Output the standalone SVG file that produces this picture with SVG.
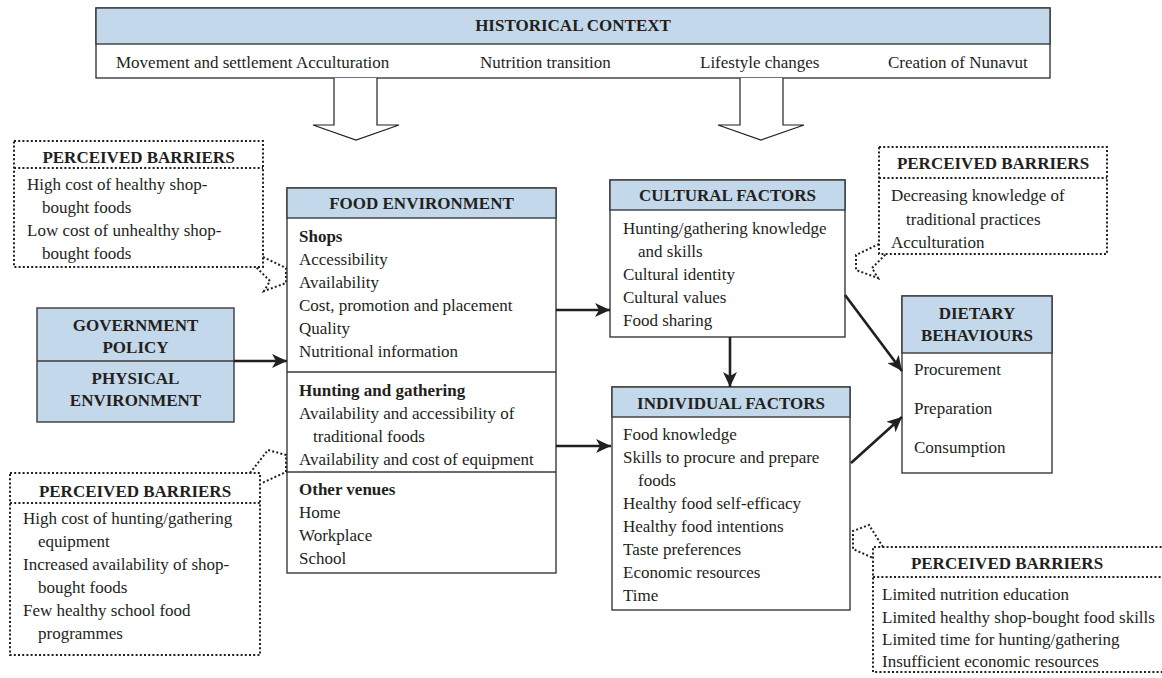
<svg xmlns="http://www.w3.org/2000/svg" width="1162" height="678" viewBox="0 0 1162 678">
<defs>
<style>
text{font-family:"Liberation Serif","Times New Roman",serif;font-size:17px;fill:#231f20}
.b{font-weight:bold}
.c{text-anchor:middle}
.box{fill:#fff;stroke:#3a3a3a;stroke-width:1.4}
.hdr{fill:#c3d8ea;stroke:#3a3a3a;stroke-width:1.4}
.sep{stroke:#3a3a3a;stroke-width:1.4;fill:none}
.dot{fill:none;stroke:#231f20;stroke-width:2;stroke-dasharray:2 2.2}
.blk{fill:#fff;stroke:#231f20;stroke-width:1.2}
.con{stroke:#231f20;stroke-width:2.6;fill:none;marker-end:url(#ah)}
</style>
<marker id="ah" markerUnits="userSpaceOnUse" markerWidth="16" markerHeight="14" refX="15" refY="7" orient="auto">
<path d="M0,0 L15,7 L0,14 L4,7 Z" fill="#231f20"/>
</marker>
</defs>

<g id="historical-context">
<rect class="box" x="96" y="8" width="954" height="70"/>
<rect class="hdr" x="96" y="8" width="954" height="36"/>
<text class="b c" x="573" y="31">HISTORICAL CONTEXT</text>
<text x="116" y="68">Movement and settlement Acculturation</text>
<text x="480" y="68">Nutrition transition</text>
<text x="700" y="68">Lifestyle changes</text>
<text x="888" y="68">Creation of Nunavut</text>
</g>

<g id="block-arrows">
<path class="blk" d="M334,78 L334,125 L313,125 L356,140 L399,125 L377,125 L377,78"/>
<path class="blk" d="M740,78 L740,125 L718,125 L761,140 L804,125 L783,125 L783,78"/>
</g>

<g id="barriers-shops">
<rect class="dot" x="14" y="141" width="249" height="126"/>
<line class="dot" x1="14" y1="168" x2="263" y2="168"/>
<text class="b c" x="138.5" y="163">PERCEIVED BARRIERS</text>
<text x="27" y="190">High cost of healthy shop-</text>
<text x="42" y="213">bought foods</text>
<text x="27" y="236">Low cost of unhealthy shop-</text>
<text x="42" y="259">bought foods</text>
<path class="dot" d="M263,257 L286,268 L286,283 L264,291 L270,281 L256,267"/>
</g>

<g id="food-environment">
<rect class="box" x="287" y="188" width="269" height="385"/>
<rect class="hdr" x="287" y="188" width="269" height="30"/>
<text class="b c" x="421.5" y="209">FOOD ENVIRONMENT</text>
<text class="b" x="299" y="242">Shops</text>
<text x="299" y="265">Accessibility</text>
<text x="299" y="288">Availability</text>
<text x="299" y="311">Cost, promotion and placement</text>
<text x="299" y="334">Quality</text>
<text x="299" y="357">Nutritional information</text>
<line class="sep" x1="287" y1="372" x2="556" y2="372"/>
<text class="b" x="299" y="396">Hunting and gathering</text>
<text x="299" y="419">Availability and accessibility of</text>
<text x="313" y="442">traditional foods</text>
<text x="299" y="465">Availability and cost of equipment</text>
<line class="sep" x1="287" y1="472" x2="556" y2="472"/>
<text class="b" x="299" y="495">Other venues</text>
<text x="299" y="518">Home</text>
<text x="299" y="541">Workplace</text>
<text x="299" y="564">School</text>
</g>

<g id="government-policy">
<rect class="hdr" x="37" y="308" width="197" height="114"/>
<line class="sep" x1="37" y1="361" x2="234" y2="361"/>
<text class="b c" x="135.5" y="331">GOVERNMENT</text>
<text class="b c" x="135.5" y="353">POLICY</text>
<text class="b c" x="135.5" y="384">PHYSICAL</text>
<text class="b c" x="135.5" y="406">ENVIRONMENT</text>
</g>

<g id="barriers-hunting">
<rect class="dot" x="10" y="473" width="250" height="182"/>
<line class="dot" x1="10" y1="503" x2="260" y2="503"/>
<text class="b c" x="135" y="497">PERCEIVED BARRIERS</text>
<text x="23" y="524">High cost of hunting/gathering</text>
<text x="38" y="547">equipment</text>
<text x="23" y="570">Increased availability of shop-</text>
<text x="38" y="593">bought foods</text>
<text x="23" y="616">Few healthy school food</text>
<text x="38" y="639">programmes</text>
<path class="dot" d="M250,473 L268,450 L286,455 L286,472 L262,483"/>
</g>

<g id="cultural-factors">
<rect class="box" x="610" y="180" width="235" height="157"/>
<rect class="hdr" x="610" y="180" width="235" height="30"/>
<text class="b c" x="727.5" y="201">CULTURAL FACTORS</text>
<text x="623" y="234">Hunting/gathering knowledge</text>
<text x="638" y="257">and skills</text>
<text x="623" y="280">Cultural identity</text>
<text x="623" y="303">Cultural values</text>
<text x="623" y="326">Food sharing</text>
</g>

<g id="barriers-cultural">
<rect class="dot" x="879" y="147" width="228" height="107"/>
<line class="dot" x1="879" y1="178" x2="1107" y2="178"/>
<text class="b c" x="993" y="169">PERCEIVED BARRIERS</text>
<text x="891" y="201">Decreasing knowledge of</text>
<text x="906" y="225">traditional practices</text>
<text x="891" y="248">Acculturation</text>
<path class="dot" d="M879,244 L856,255 L856,270 L878,278 L872,268 L886,254"/>
</g>

<g id="individual-factors">
<rect class="box" x="612" y="387" width="238" height="223"/>
<rect class="hdr" x="612" y="387" width="238" height="30"/>
<text class="b c" x="731" y="409">INDIVIDUAL FACTORS</text>
<text x="623" y="440">Food knowledge</text>
<text x="623" y="463">Skills to procure and prepare</text>
<text x="638" y="486">foods</text>
<text x="623" y="509">Healthy food self-efficacy</text>
<text x="623" y="532">Healthy food intentions</text>
<text x="623" y="555">Taste preferences</text>
<text x="623" y="578">Economic resources</text>
<text x="623" y="601">Time</text>
</g>

<g id="dietary-behaviours">
<rect class="box" x="902" y="296" width="150" height="177"/>
<rect class="hdr" x="902" y="296" width="150" height="57"/>
<text class="b c" x="977" y="319">DIETARY</text>
<text class="b c" x="977" y="341">BEHAVIOURS</text>
<text x="914" y="375">Procurement</text>
<text x="914" y="414">Preparation</text>
<text x="914" y="453">Consumption</text>
</g>

<g id="barriers-individual">
<path class="dot" d="M1170,547 L873,547 L873,672 L1170,672"/>
<line class="dot" x1="873" y1="577" x2="1170" y2="577"/>
<text class="b c" x="1007" y="569">PERCEIVED BARRIERS</text>
<text x="882" y="600">Limited nutrition education</text>
<text x="882" y="623">Limited healthy shop-bought food skills</text>
<text x="882" y="645">Limited time for hunting/gathering</text>
<text x="882" y="667">Insufficient economic resources</text>
<path class="dot" d="M883,547 L869,525 L853,531 L853,549 L873,558"/>
</g>

<g id="connectors">
<line class="con" x1="234" y1="361" x2="287" y2="361"/>
<line class="con" x1="556" y1="310" x2="610" y2="310"/>
<line class="con" x1="556" y1="446" x2="611" y2="446"/>
<line class="con" x1="730" y1="337" x2="730" y2="387"/>
<line class="con" x1="845" y1="295" x2="902" y2="371"/>
<line class="con" x1="851" y1="463" x2="902" y2="417"/>
</g>
</svg>
